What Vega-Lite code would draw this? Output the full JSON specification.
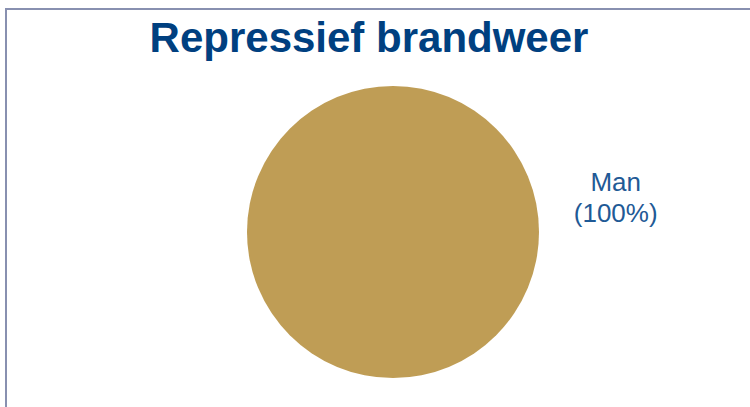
{
  "$schema": "https://vega.github.io/schema/vega-lite/v6.json",
  "width": 774,
  "height": 446,
  "autosize": {"type": "none"},
  "padding": {"left": 6, "top": 9, "right": -30, "bottom": -48},
  "background": "white",
  "config": {
    "view": {"stroke": "#8890b0", "strokeWidth": 2}
  },
  "title": {
    "text": "Repressief brandweer",
    "orient": "none",
    "font": "Liberation Sans",
    "fontSize": 42,
    "fontWeight": "bold",
    "color": "#004080",
    "anchor": "middle",
    "frame": "group",
    "dx": 363,
    "dy": 43,
    "baseline": "alphabetic",
    "offset": 0
  },
  "data": {"values": [{"category": "Man", "value": 1, "label": "Man\n(100%)"}]},
  "layer": [
    {
      "mark": {"type": "rule", "opacity": 0},
      "encoding": {
        "x": {"datum": 0, "type": "quantitative", "axis": null},
        "y": {"datum": 0, "type": "quantitative", "axis": null}
      }
    },
    {
      "mark": {"type": "arc", "outerRadius": 146, "color": "#BF9D55"},
      "encoding": {
        "theta": {"field": "value", "type": "quantitative"}
      }
    },
    {
      "mark": {
        "type": "text",
        "theta": 1.3545,
        "radius": 228,
        "font": "Liberation Sans",
        "fontSize": 26,
        "lineHeight": 31,
        "lineBreak": "\n",
        "color": "#1F5A96",
        "align": "center",
        "baseline": "middle"
      },
      "encoding": {
        "text": {"field": "label"}
      }
    }
  ]
}
